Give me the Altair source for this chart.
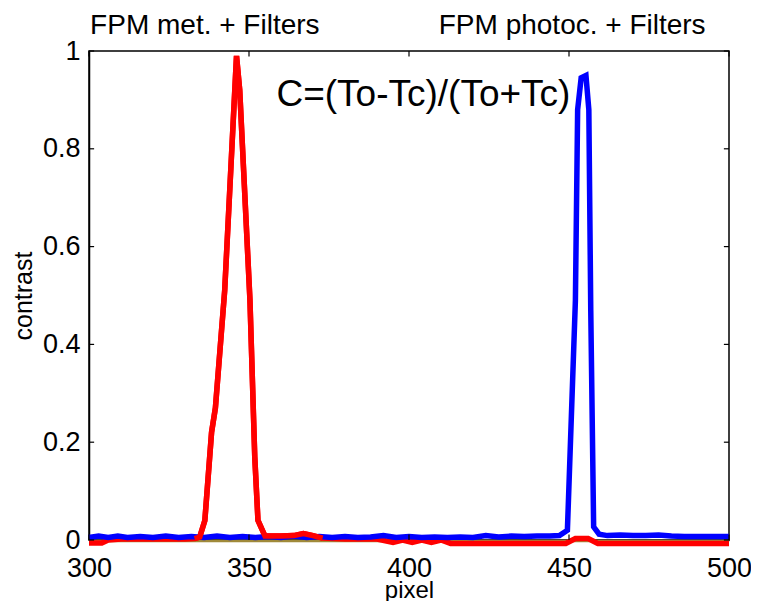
import altair as alt
import pandas as pd

# ---- data ----
red_px = [300, 304, 306, 310, 320, 330, 333, 334.6, 336.2, 338.3, 339.5, 342.4, 346.1, 347.1,
          350.3, 351.8, 352.8, 355, 360, 364, 367, 370, 373, 380, 390, 395, 398, 401, 404, 407,
          410, 413, 420, 440, 449, 452, 456, 459, 462, 480, 500]
red_val = [-0.006, -0.006, 0.0, 0.002, 0.002, 0.002, 0.003, 0.006, 0.04, 0.22, 0.27, 0.51, 0.99, 0.92,
           0.49, 0.17, 0.04, 0.008, 0.008, 0.009, 0.013, 0.009, 0.004, 0.002, 0.002, -0.005, 0.0, -0.005, 0.0, -0.005,
           0.0, -0.007, -0.007, -0.007, -0.007, 0.003, 0.003, -0.007, -0.007, -0.007, -0.007]

blue_px = [300, 303, 306, 309, 312, 316, 320, 324, 328, 332, 336, 340, 344, 348, 352, 356, 360, 364,
           368, 372, 376, 380, 384, 388, 392, 396, 400, 404, 408, 412, 416, 420, 424, 428, 432, 436,
           440, 444, 447, 449.5, 452.0, 452.7, 453.8, 455.3, 456.2, 456.8, 457.7, 459.4, 462, 466,
           470, 474, 478, 482, 486, 490, 495, 500]
blue_val = [0.005, 0.008, 0.005, 0.008, 0.005, 0.007, 0.005, 0.008, 0.005, 0.007, 0.005, 0.008, 0.005,
            0.007, 0.005, 0.007, 0.005, 0.008, 0.005, 0.007, 0.005, 0.007, 0.005, 0.006, 0.009, 0.005,
            0.007, 0.005, 0.006, 0.005, 0.006, 0.005, 0.009, 0.006, 0.008, 0.007, 0.008, 0.008, 0.009,
            0.02, 0.49, 0.88, 0.945, 0.95, 0.88, 0.47, 0.027, 0.012, 0.009, 0.01, 0.009, 0.009, 0.01,
            0.008, 0.007, 0.007, 0.007, 0.007]

base_px = [300, 500]
base_val = [-0.002, -0.002]

x_ticks = [300, 350, 400, 450, 500]
y_ticks = [0, 0.2, 0.4, 0.6, 0.8, 1]

ann_text = ["FPM met. + Filters", "FPM photoc. + Filters"]
ann_x = [336.2, 451.0]
ann_y = [1.052, 1.052]

formula_text = ["C=(To-Tc)/(To+Tc)"]
formula_x = [404.5]
formula_y = [0.91]

FONT = "Liberation Sans"

red = pd.DataFrame({"pixel": red_px, "contrast": red_val})
blue = pd.DataFrame({"pixel": blue_px, "contrast": blue_val})
base = pd.DataFrame({"pixel": base_px, "contrast": base_val})

xs = alt.Scale(domain=[300, 500], nice=False, zero=False)
ys = alt.Scale(domain=[0, 1], nice=False)

AX = dict(grid=False, ticks=False, domainColor="black", domainWidth=1.5,
          labelFont=FONT, labelFontSize=27, labelColor="black",
          titleFont=FONT, titleFontWeight="normal", titleColor="black")

AXX = alt.Axis(values=x_ticks, title="pixel", labelPadding=15, titlePadding=-3,
               titleFontSize=24, labelFlush=False, **AX)
AXY = alt.Axis(values=y_ticks, title="contrast", labelPadding=9, titlePadding=6,
               titleFontSize=25, format="~g", **AX)

X = alt.X("pixel:Q", scale=xs, axis=AXX)
Y = alt.Y("contrast:Q", scale=ys, axis=AXY)

l_base = alt.Chart(base).mark_line(color="#a08a3a", strokeWidth=2.5).encode(x=X, y=Y)
l_red = alt.Chart(red).mark_line(color="#ff0000", strokeWidth=5.5).encode(x=X, y=Y)
l_blue = alt.Chart(blue).mark_line(color="#0000ff", strokeWidth=5.5).encode(x=X, y=Y)
l_red_top = alt.Chart(red).transform_filter(
    (alt.datum.pixel >= 333) & (alt.datum.pixel <= 373)
).mark_line(color="#ff0000", strokeWidth=5.5).encode(x=X, y=Y)

# inward ticks (MATLAB style box)
xt = pd.DataFrame({"v": x_ticks})
yt = pd.DataFrame({"v": y_ticks})
tick_len_y = 0.011
tick_len_x = 1.6
XV = alt.X("v:Q", scale=xs, axis=AXX)
YV = alt.Y("v:Q", scale=ys, axis=AXY)
t_bottom = alt.Chart(xt).mark_rule(color="black", strokeWidth=1.2).encode(
    x=XV, y=alt.YDatum(0, scale=ys, axis=AXY), y2=alt.Y2Datum(tick_len_y))
t_top = alt.Chart(xt).mark_rule(color="black", strokeWidth=1.2).encode(
    x=XV, y=alt.YDatum(1, scale=ys, axis=AXY), y2=alt.Y2Datum(1 - tick_len_y))
t_left = alt.Chart(yt).mark_rule(color="black", strokeWidth=1.2).encode(
    y=YV, x=alt.XDatum(300, scale=xs, axis=AXX), x2=alt.X2Datum(300 + tick_len_x))
t_right = alt.Chart(yt).mark_rule(color="black", strokeWidth=1.2).encode(
    y=YV, x=alt.XDatum(500, scale=xs, axis=AXX), x2=alt.X2Datum(500 - tick_len_x))

ann = alt.Chart(pd.DataFrame({"t": ann_text, "x": ann_x, "y": ann_y})).mark_text(
    font=FONT, fontSize=28, color="black", align="center", baseline="middle"
).encode(x=alt.X("x:Q", scale=xs, axis=AXX), y=alt.Y("y:Q", scale=ys, axis=AXY), text="t:N")

formula = alt.Chart(pd.DataFrame({"t": formula_text, "x": formula_x, "y": formula_y})).mark_text(
    font=FONT, fontSize=37, color="black", align="center", baseline="middle"
).encode(x=alt.X("x:Q", scale=xs, axis=AXX), y=alt.Y("y:Q", scale=ys, axis=AXY), text="t:N")

chart = alt.layer(
    l_base, l_red, l_blue, l_red_top, t_bottom, t_top, t_left, t_right, ann, formula
).properties(
    width=640, height=489,
    autosize=alt.AutoSizeParams(type="none"),
    padding={"left": 81, "top": 43, "right": 22, "bottom": 61},
    background="white",
).configure_view(
    stroke="black", strokeWidth=1.5
)

chart.save("out.html", embed_options={"renderer": "svg", "actions": False})
